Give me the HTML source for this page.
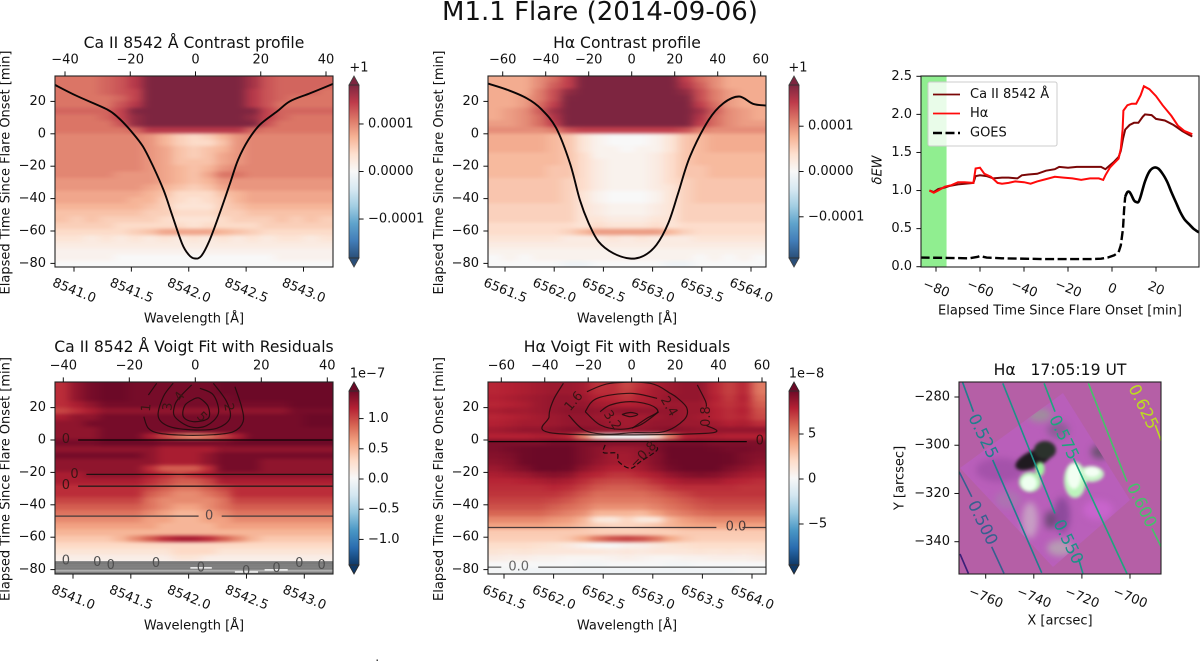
<!DOCTYPE html>
<html lang="en">
<head>
<meta charset="utf-8">
<title>M1.1 Flare (2014-09-06)</title>
<style>
html,body{margin:0;padding:0;background:#fff;}
svg{display:block;}
text{font-family:"DejaVu Sans","Liberation Sans",sans-serif;fill:#111;}
</style>
</head>
<body>
<svg id="fig" xmlns="http://www.w3.org/2000/svg" width="1200" height="661" viewBox="0 0 1200 661">
<defs>
<filter id="cellBlur" x="-5%" y="-5%" width="110%" height="110%" color-interpolation-filters="sRGB"><feGaussianBlur stdDeviation="5 1.5"/></filter>
<filter id="blobBlur" x="-30%" y="-30%" width="160%" height="160%" color-interpolation-filters="sRGB"><feGaussianBlur stdDeviation="1.5"/></filter>
<filter id="softBlur" x="-30%" y="-30%" width="160%" height="160%" color-interpolation-filters="sRGB"><feGaussianBlur stdDeviation="3.5"/></filter>
<clipPath id="clip-ca-contrast"><rect x="55" y="76" width="278" height="191"/></clipPath>
<clipPath id="clip-ha-contrast"><rect x="488" y="76" width="278" height="191"/></clipPath>
<clipPath id="clip-ca-voigt"><rect x="55" y="382" width="278" height="192"/></clipPath>
<clipPath id="clip-ha-voigt"><rect x="488" y="382" width="278" height="192"/></clipPath>
<clipPath id="clip-ew"><rect x="921" y="76" width="278" height="191"/></clipPath>
<clipPath id="clip-map"><rect x="959" y="382" width="202" height="192"/></clipPath>
<clipPath id="clip-rot"><polygon points="1063,393 960,468 1053,567 1130,500"/></clipPath>
</defs>
<rect x="0" y="0" width="1200" height="661" fill="#fff"/>

<text x="600" y="20" font-size="26" text-anchor="middle">M1.1 Flare (2014-09-06)</text>

<text x="194" y="48" font-size="15.6" text-anchor="middle">Ca II 8542 Å Contrast profile</text>
<text x="627" y="48" font-size="15.6" text-anchor="middle">Hα Contrast profile</text>
<text x="194" y="352" font-size="15.6" text-anchor="middle">Ca II 8542 Å Voigt Fit with Residuals</text>
<text x="627" y="352" font-size="15.6" text-anchor="middle">Hα Voigt Fit with Residuals</text>
<text x="1060" y="375" font-size="15.6" text-anchor="middle" xml:space="preserve">Hα   17:05:19 UT</text>

<text transform="translate(6,172.5) rotate(-90)" font-size="13" text-anchor="middle" dominant-baseline="central">Elapsed Time Since Flare Onset [min]</text>
<text transform="translate(439.5,172.5) rotate(-90)" font-size="13" text-anchor="middle" dominant-baseline="central">Elapsed Time Since Flare Onset [min]</text>
<text transform="translate(6,479) rotate(-90)" font-size="13" text-anchor="middle" dominant-baseline="central">Elapsed Time Since Flare Onset [min]</text>
<text transform="translate(439.5,479) rotate(-90)" font-size="13" text-anchor="middle" dominant-baseline="central">Elapsed Time Since Flare Onset [min]</text>
<text transform="translate(878,170) rotate(-90)" font-size="13" font-style="italic" text-anchor="middle" dominant-baseline="central">δEW</text>
<text transform="translate(900,478) rotate(-90)" font-size="13" text-anchor="middle" dominant-baseline="central">Y [arcsec]</text>

<text x="194" y="319" font-size="13" text-anchor="middle" dominant-baseline="central">Wavelength [Å]</text>
<text x="627" y="319" font-size="13" text-anchor="middle" dominant-baseline="central">Wavelength [Å]</text>
<text x="194" y="626" font-size="13" text-anchor="middle" dominant-baseline="central">Wavelength [Å]</text>
<text x="627" y="626" font-size="13" text-anchor="middle" dominant-baseline="central">Wavelength [Å]</text>
<text x="1060" y="311" font-size="13" text-anchor="middle" dominant-baseline="central">Elapsed Time Since Flare Onset [min]</text>
<text x="1060" y="621" font-size="13" text-anchor="middle" dominant-baseline="central">X [arcsec]</text>

<rect x="376.5" y="659.5" width="1.5" height="1.5" fill="#444"/>

<g id="layer-ca-contrast"></g>
<g id="layer-ha-contrast"></g>
<g id="layer-ca-voigt"></g>
<g id="layer-ha-voigt"></g>
<g id="layer-ew"></g>

<g id="layer-map">
  <g clip-path="url(#clip-map)">
    <rect x="959" y="382" width="202" height="192" fill="#b55fa6"/>
    <g clip-path="url(#clip-rot)">
      <rect x="950" y="385" width="190" height="190" fill="#b95fba"/>
      <g filter="url(#softBlur)">
        <ellipse cx="1040" cy="415" rx="12" ry="7" fill="#a08c9e"/>
        <ellipse cx="1000" cy="470" rx="24" ry="12" fill="#a452aa"/>
        <ellipse cx="1030" cy="520" rx="8" ry="18" fill="#c79dc4"/>
        <ellipse cx="1060" cy="548" rx="13" ry="8" fill="#b79bb4"/>
        <ellipse cx="1062" cy="515" rx="8" ry="18" fill="#8d4a9c"/>
        <ellipse cx="1050" cy="520" rx="5" ry="9" fill="#6e4a78"/>
        <ellipse cx="1098" cy="510" rx="15" ry="10" fill="#c864cc"/>
        <ellipse cx="1100" cy="452" rx="9" ry="7" fill="#6e5274"/>
        <ellipse cx="1058" cy="430" rx="11" ry="8" fill="#8f5c98"/>
        <ellipse cx="1008" cy="500" rx="13" ry="9" fill="#ad72b2"/>
      </g>
      <g filter="url(#blobBlur)">
        <ellipse cx="1034" cy="459" rx="20" ry="8.5" transform="rotate(-24 1034 459)" fill="#1f1a20"/>
        <ellipse cx="1045" cy="450" rx="11" ry="9" fill="#2b322c"/>
        <ellipse cx="1030" cy="482" rx="11" ry="10" fill="#b3f2b3"/>
        <ellipse cx="1075" cy="480" rx="11" ry="18" fill="#bdf5bd"/>
        <ellipse cx="1091" cy="474" rx="13" ry="8" fill="#c6f3c6"/>
        <ellipse cx="1029" cy="483" rx="8" ry="8" fill="#eefff0"/>
        <ellipse cx="1040" cy="469" rx="4.5" ry="7" fill="#9cf59c"/>
        <ellipse cx="1074" cy="476" rx="7" ry="13" fill="#f2fff2"/>
        <ellipse cx="1092" cy="472" rx="8" ry="5" fill="#f4fff4"/>
      </g>
    </g>
  </g>
</g>

<script>
/* ---------- shared tick values ---------- */
const timeTicks = [20, 0, -20, -40, -60, -80];
const caOffsetTicks = [-40, -20, 0, 20, 40];
const haOffsetTicks = [-60, -40, -20, 0, 20, 40, 60];
const caWaveTicks = [8541.0, 8541.5, 8542.0, 8542.5, 8543.0];
const haWaveTicks = [6561.5, 6562.0, 6562.5, 6563.0, 6563.5, 6564.0];
const contrastBarTicks = [10, 0, -10];
const contrastBarLabels = ['0.0001', '0.0000', '−0.0001'];
const caVoigtBarTicks = [10, 5, 0, -5, -10];
const caVoigtBarLabels = ['1.0', '0.5', '0.0', '−0.5', '−1.0'];
const haVoigtBarTicks = [50, 0, -50];
const haVoigtBarLabels = ['5', '0', '−5'];
const ewTimeTicks = [-80, -60, -40, -20, 0, 20];
const ewValueTicks = [0, 0.5, 1, 1.5, 2, 2.5];
const mapXTicks = [-760, -740, -720, -700];
const mapYTicks = [-280, -300, -320, -340];

/* ---------- heat maps: rows top-to-bottom (time), columns left-to-right (wavelength) ---------- */
const caContrast = [
[11,11,11,12,13,15,20,20,20,20,20,20,20,16,13,12,12,12,12],
[11,11,11,12,13,15,20,20,20,20,20,20,20,16,13,12,12,12,12],
[11,11,11,12,13,14,20,20,20,20,20,20,20,15,13,12,12,12,11],
[11,11,11,11,12,14,20,20,20,20,20,20,20,15,13,12,11,11,11],
[11,11,11,11,13,15,20,20,20,20,20,20,20,15,13,11,11,11,11],
[12,12,12,12,14,18,20,20,20,20,20,20,20,18,14,12,12,12,12],
[11,11,11,12,14,17,20,20,20,20,20,20,20,17,14,12,11,11,11],
[11,11,11,11,13,17,20,20,20,20,20,20,20,18,13,11,11,11,11],
[11,11,11,11,11,12,15,15,15,15,15,15,15,12,11,11,11,11,11],
[10,10,10,10,10,10,9,7,5,4,5,7,9,10,10,10,10,10,10],
[10,10,10,10,10,10,9,7,5,4,4,6,9,10,10,10,10,10,10],
[10,10,10,10,10,10,9,8,6,5,6,7,9,10,10,10,10,10,10],
[10,10,10,10,10,10,9,8,6,5,6,8,9,10,10,10,10,10,10],
[10,10,10,10,10,10,9,8,6,6,6,8,9,10,10,10,10,10,10],
[10,10,10,10,10,10,9,8,7,6,7,9,10,10,10,10,10,10,10],
[10,10,10,10,9,9,9,8,7,6,8,11,11,10,10,10,10,10,10],
[9,9,9,9,9,9,9,8,7,6,7,9,9,9,9,9,9,9,9],
[9,9,9,9,9,9,8,7,6,5,6,8,9,9,9,9,9,9,9],
[8,8,8,8,8,8,7,6,4,4,4,6,7,8,8,8,8,8,8],
[8,8,8,8,8,7,7,5,4,3,4,5,7,8,8,8,8,8,8],
[7,7,7,7,7,7,6,5,3,3,3,5,6,7,7,7,7,7,7],
[6,6,6,6,6,6,5,5,4,4,4,5,5,6,6,6,6,6,6],
[6,5,6,5,5,5,5,4,3,3,3,4,5,5,5,6,5,6,5],
[5,5,5,5,4,4,4,4,4,3,4,4,4,4,5,5,5,5,5],
[4,4,4,4,4,5,6,8,8,8,8,7,6,5,4,4,4,4,4],
[3,3,2,3,2,3,2,3,2,3,2,3,2,3,2,3,3,2,3],
[2,2,2,2,2,2,2,2,2,2,2,2,2,2,2,2,2,2,2],
[1,1,1,1,1,1,1,1,1,1,1,1,1,1,1,1,1,1,1],
[1,1,1,1,0,0,0,0,0,0,0,0,0,0,0,1,1,1,1],
[0,0,0,0,0,0,0,0,0,0,0,0,0,0,0,0,0,0,0]];

const haContrast = [
[8,8,8,10,12,15,20,20,20,20,20,20,20,15,12,10,8,8,8],
[8,8,8,10,13,15,20,20,20,20,20,20,20,16,13,10,8,8,8],
[8,8,8,11,14,18,20,20,20,20,20,20,20,18,14,11,9,8,8],
[8,8,9,11,14,19,20,20,20,20,20,20,20,19,14,11,9,8,8],
[8,8,9,12,15,20,20,20,20,20,20,20,20,20,15,12,9,8,8],
[8,9,10,13,17,20,20,20,20,20,20,20,20,20,17,13,10,9,8],
[8,9,10,12,16,20,20,20,20,20,20,20,20,20,16,12,10,9,8],
[9,9,10,12,15,20,20,20,20,20,20,20,20,20,15,12,10,9,9],
[10,10,10,10,11,14,15,15,15,15,15,15,15,14,11,10,10,10,10],
[8,8,8,8,7,6,3,1,0,0,0,1,3,6,7,8,8,8,8],
[8,8,8,8,7,6,3,1,0,0,0,1,3,6,7,8,8,8,8],
[8,8,8,8,7,6,3,1,1,0,1,1,3,6,7,8,8,8,8],
[7,7,7,7,7,6,4,1,1,1,1,2,4,6,7,7,7,7,7],
[7,7,7,7,7,6,4,2,1,1,1,2,4,6,7,7,7,7,7],
[7,7,7,7,6,6,4,2,1,1,1,2,4,6,6,7,7,7,7],
[7,7,7,7,6,6,4,2,1,1,1,2,4,6,6,7,7,7,7],
[6,6,6,6,6,5,4,2,1,1,1,2,4,5,6,6,6,6,6],
[6,6,6,6,6,5,4,2,1,1,1,2,3,5,6,6,6,6,6],
[6,6,6,6,6,5,3,1,0,0,0,1,3,5,6,6,6,6,6],
[6,6,6,6,6,5,3,1,0,0,0,1,3,5,6,6,6,6,6],
[5,5,5,5,5,5,3,2,1,1,1,2,3,5,5,5,5,5,5],
[5,5,5,5,5,5,3,2,1,1,1,2,3,5,5,5,5,5,5],
[5,5,5,5,5,5,3,3,2,2,2,3,3,5,5,5,5,5,5],
[4,4,4,4,4,4,3,4,3,3,3,4,3,4,4,4,4,4,4],
[4,4,4,4,4,5,7,9,9,9,9,9,7,5,4,4,4,4,4],
[3,3,3,3,3,2,2,2,3,2,3,2,2,2,3,3,3,3,3],
[2,2,2,2,2,2,2,2,2,2,2,2,2,2,2,2,2,2,2],
[1,1,1,1,1,1,1,1,1,1,1,1,1,1,1,1,1,1,1],
[0,1,0,1,1,1,1,1,1,1,1,1,1,1,0,1,0,1,0],
[0,0,0,0,0,-1,-1,0,0,0,0,0,-1,-1,0,0,0,0,0]];

const caVoigt = [
[11,13,14,15,15,14,14,14,14,14,14,15,15,15,15,15,15,15,15],
[11,13,14,15,15,14,14,14,14,14,14,15,15,15,15,15,15,15,15],
[11,13,14,15,15,14,14,14,14,14,14,14,15,15,15,15,15,15,15],
[11,12,13,14,14,14,14,14,14,14,14,14,14,14,14,14,15,15,15],
[10,11,12,13,13,13,13,13,13,13,13,13,13,13,13,13,14,14,14],
[12,13,13,14,14,14,14,14,14,14,14,14,14,14,14,14,14,15,15],
[13,13,14,14,14,14,14,14,14,14,14,14,14,14,14,14,14,15,15],
[13,13,13,14,14,14,14,14,14,14,14,14,14,14,14,14,14,14,14],
[13,13,13,14,14,14,12,10,8,7,8,10,12,14,14,14,14,14,14],
[14,14,14,15,15,15,15,14,14,14,14,14,15,15,15,15,15,15,15],
[13,13,13,13,13,13,13,12,12,12,12,13,13,13,13,13,13,13,13],
[14,14,14,14,14,14,13,12,12,12,13,14,14,14,14,14,14,14,14],
[13,13,13,13,13,13,13,12,12,12,13,14,14,14,13,13,13,13,13],
[13,13,13,13,13,13,11,9,9,9,11,14,14,14,13,13,13,13,13],
[12,12,13,13,13,13,12,11,10,11,12,13,13,13,13,13,13,13,13],
[12,12,12,12,12,12,11,10,9,9,10,12,12,12,12,12,12,12,12],
[11,11,11,11,11,11,10,9,8,8,9,10,11,11,11,11,11,11,11],
[11,11,11,11,11,11,9,8,7,7,8,9,11,11,11,11,11,11,11],
[10,10,10,10,10,10,8,7,7,7,7,8,10,10,10,10,10,10,10],
[9,9,9,9,9,9,8,7,6,6,7,8,9,9,9,9,9,9,9],
[8,8,8,8,8,8,7,6,5,5,6,7,8,8,8,8,8,8,8],
[7,7,7,7,7,7,6,6,5,5,6,6,7,7,7,7,7,7,7],
[6,6,6,6,6,6,6,5,5,5,5,6,6,6,6,6,6,6,6],
[5,5,5,5,5,5,5,5,5,5,5,5,5,5,5,5,5,5,5],
[4,4,4,4,5,7,9,11,12,12,11,9,7,5,4,4,4,4,4],
[3,3,3,3,3,3,3,3,3,3,3,3,3,3,3,3,3,3,3],
[2,2,2,2,2,2,2,2,3,3,3,2,2,2,2,2,2,2,2],
[1,1,1,1,1,1,1,1,2,2,1,1,1,1,1,1,1,1,1],
[0,0,0,0,0,0,0,0,0,0,0,0,0,0,0,0,0,0,0],
[0,0,0,0,0,0,0,0,0,0,0,0,0,0,0,0,0,0,0]];

const haVoigt = [
[76,78,80,82,84,84,82,72,74,66,74,80,84,86,86,76,68,76,52],
[76,78,80,82,84,84,82,74,74,68,76,82,84,86,86,76,68,76,52],
[78,80,82,84,86,86,84,78,76,72,78,82,86,86,86,78,70,78,56],
[76,78,80,84,86,86,86,82,80,78,80,82,84,84,84,76,72,76,60],
[80,82,82,84,86,88,88,86,86,88,86,86,86,84,84,78,74,78,64],
[76,78,80,82,84,86,86,84,82,82,82,84,86,84,82,78,74,76,66],
[78,80,82,82,84,86,86,86,84,82,84,86,86,84,84,82,78,80,74],
[82,84,86,86,88,90,90,88,86,84,86,88,90,88,86,86,86,86,86],
[78,78,78,80,80,76,50,14,0,0,0,16,52,78,80,80,78,78,78],
[92,92,92,92,94,94,92,92,90,90,90,92,94,94,94,92,92,92,92],
[92,94,96,98,98,98,92,88,84,84,86,92,98,98,98,96,94,94,92],
[90,92,96,98,100,100,92,88,82,82,86,90,98,100,100,98,96,92,90],
[88,90,96,100,100,100,92,86,82,82,84,90,96,100,100,100,96,92,88],
[84,88,92,98,100,96,88,82,78,78,82,88,94,98,100,98,92,88,84],
[80,82,84,88,90,88,80,76,72,72,76,80,86,90,92,90,86,82,80],
[76,76,78,80,82,80,74,68,66,66,68,74,78,82,82,82,78,76,74],
[74,74,74,74,76,74,68,62,60,60,62,66,72,74,74,74,74,72,72],
[72,72,72,72,72,68,62,56,56,56,56,60,64,68,72,72,72,72,72],
[68,68,68,68,66,62,56,52,52,52,52,54,58,62,66,68,68,68,68],
[64,64,64,64,60,56,52,46,46,46,46,50,54,58,62,64,64,64,64],
[58,58,58,58,54,50,46,34,34,34,32,40,48,52,56,58,58,58,58],
[48,48,48,48,44,42,34,12,10,22,10,12,34,42,46,48,48,48,48],
[40,40,40,40,38,36,30,24,22,22,24,28,34,38,40,40,40,40,40],
[26,26,26,26,26,26,26,24,24,24,24,24,24,26,26,26,26,26,26],
[24,24,24,24,24,28,38,54,64,68,64,54,38,28,24,24,24,24,24],
[18,18,18,16,14,10,4,0,0,4,6,10,14,16,18,18,18,18,18],
[14,12,14,12,12,12,12,12,10,12,10,12,12,12,14,12,14,12,14],
[8,6,6,4,4,2,2,2,4,6,4,2,2,4,4,6,6,6,8],
[0,0,0,0,0,0,-2,-2,0,0,0,0,-2,-2,0,0,0,0,0],
[-2,-2,-4,-4,-4,-4,-4,-4,-4,-4,-4,-4,-4,-4,-4,-4,-4,-2,-2]];

/* ---------- line profiles (wavelength Å, y-axis minutes) ---------- */
const caProfileWave = [8540.834,8541.02,8541.285,8541.39,8541.5,8541.6,8541.69,8541.78,8541.85,8541.94,8542,8542.055,8542.11,8542.18,8542.27,8542.36,8542.43,8542.52,8542.62,8542.77,8542.88,8543.06,8543.26];
const caProfileLevel = [30.2,23.5,15.2,9.7,1.4,-7.8,-20.2,-34.6,-49,-67.5,-74.7,-77,-75.3,-66,-49,-30.5,-16,-3.7,5.6,13.8,20,25.1,30.9];
const haProfileWave = [6561.33,6561.52,6561.72,6561.87,6562.02,6562.16,6562.26,6562.35,6562.45,6562.6,6562.77,6562.91,6563.04,6563.16,6563.26,6563.38,6563.57,6563.72,6563.88,6564.02,6564.15];
const haProfileLevel = [30.9,27.2,22,15.2,3.5,-18.1,-40.7,-55.1,-66.5,-73.7,-77,-75.3,-68.5,-55.1,-36.6,-14,8.6,18.9,23,18.5,17.5];

/* ---------- residual contours (offset axis, minutes) ---------- */
const caContourOffsets = [
[-11.7,-14.2],
[-15.6,-14.2,-10.7,-2.6,5.5,11.5,14.5,14,12],
[-6.7,-9.7,-11.2,-7.7,-0.1,6.5,10.5,9.5,5.5],
[-1.1,-4.6,-6.2,-6.2,-1.6,3.4,7,5.5,1.4],
[-0.1,-3.1,-3.6,-0.6,3.9,3.9,1.4,-0.1]];
const caContourTimes = [
[35,27.8],
[14.4,7.2,4.1,2.9,3.3,5.1,11.3,20.6,32.9],
[35,26.7,14.4,8.2,6.2,7.2,13.4,23.7,35],
[34,26.7,21.6,14.4,8.2,8.8,16.5,27.8,31.9],
[25.7,21.6,14.4,11.3,13.4,20.6,25.7,25.7]];
const caContourLabelText = ['1','2','3','4','5'];
const caContourLabelOffset = [-14.7,10,-8.2,-4.6,1.9];
const caContourLabelTime = [20,20.2,20.6,26.7,14];
const caContourLabelAngle = [-85,80,-85,-55,45];

const caZeroTimes = [0,-21.2,-28.5,-47,-47];
const caZeroFrom = [-35.5,-33,-35.5,-43,8];
const caZeroTo = [42,42,42,1,42];
const caZeroShade = ['#0c0404','#201010','#2a1a1a','#453a3a','#453a3a'];
const caZeroLabelOffset = [-39.2,-36.6,-39.2,4.2];
const caZeroLabelTime = [0.2,-21.2,-28,-46.8];

const caBandTimes = [-75.3,-76.1,-76.9,-77.7,-78.5,-79.3,-80.1,-80.9,-81.7,-82.5];
const caBandShade = ['#7e7e7e','#777','#808080','#7a7a7a','#858585','#7c7c7c','#8a8a8a','#bbb','#808080','#777'];
const caGapOffsets = [[-1.5,5],[12,19],[21,28]];
const caGapTimes = [-78.9,-81.5,-80.2];
const caBandLabelOffset = [-39.2,-29.7,-25.6,-11.9,1.7,15.4,24.6,31.5,38.3];
const caBandLabelTime = [-74.7,-75.7,-77.6,-76.1,-79,-81.3,-79.4,-76.1,-77.6];

const haContourOffsets = [
[-31.4,-36,-38,-35.2,34,34.4],
[34.4,34,30.2],
[-29,-22,-12,0.9,14.8,24,25.5,21,17.8],
[-20.6,-9.8,8.6,17.8],
[-21.4,-16,-0.6,11.7],
[12.5,4,-5.2,-14.5,-21.4],
[-14.5,-9.8,-0.6,8.6,12,7,0.2],
[-4.5,-0.6,2.8,-0.6,-4.5]];
const haContourTimes = [
[35,24.7,14.4,4.1,4.1,9],
[20.5,24,34],
[15.4,6.2,3.6,4.5,5.1,12.3,19.5,26,28.8],
[29.8,35,35,28.8],
[17.5,25.7,28.8,25.7],
[17.5,9.3,6.6,9.3,17.5],
[17.5,21.6,23.7,21.6,17.5,13.4,7.2],
[15.8,17,15.8,14.4,15.8]];
const haDashOffsets = [-12.2,-12.9,-6.8,-6,-0.6,4,11.7,10];
const haDashTimes = [-3,-7.8,-8.2,-13.4,-17.5,-13.4,-6.2,-3];
const haContourLabelText = ['1.6','2.4','3.2','0.8','−0.8'];
const haContourLabelOffset = [-26.5,17,-9,34.5,5.5];
const haContourLabelTime = [23.7,20.6,12,14.5,-9.3];
const haContourLabelAngle = [-50,60,55,-90,-45];
const haZeroTimes = [-1,-54,-54,-78.5,-78.5];
const haZeroFrom = [-66,-66,51,-66,-43];
const haZeroTo = [53,39,62,-60,62];
const haZeroShade = ['#0c0404','#4a3a3a','#4a3a3a','#666','#666'];
const haZeroLabelText = ['0','0.0','0.0'];
const haZeroLabelOffset = [59,48,-52];
const haZeroLabelTime = [-0.6,-53.7,-78.5];
const haZeroLabelShade = ['#3a1010','#4a3a3a','#666'];

/* ---------- equivalent width series ---------- */
const caEwTime = [-83,-81,-79,-76,-74,-70,-67,-63,-62,-60,-57,-54,-50,-47,-43,-41,-38,-34,-30,-26,-24,-20,-16,-12,-8,-5,-3,-1,1,3,4,5,6,8,10,12,14,15,18,20,24,28,32,35,36.5];
const caEwValue = [1.0,0.98,1.02,1.04,1.06,1.08,1.09,1.10,1.19,1.20,1.19,1.16,1.17,1.17,1.16,1.20,1.21,1.22,1.26,1.28,1.31,1.30,1.31,1.31,1.31,1.31,1.28,1.33,1.38,1.44,1.52,1.68,1.80,1.86,1.89,1.89,1.97,2.0,1.99,1.94,1.92,1.86,1.78,1.73,1.71];
const haEwTime = [-83,-81,-79,-76,-73,-70,-67,-63,-62,-60,-58,-55,-52,-50,-47,-44,-40,-37,-34,-30,-26,-22,-18,-14,-10,-6,-4,-3,-1,1,3,4,4.8,5.2,7,9,11,13,14.5,17,20,23,27,30,33,36.5];
const haEwValue = [1.0,0.97,1.0,1.05,1.07,1.11,1.11,1.10,1.29,1.30,1.22,1.18,1.10,1.09,1.10,1.12,1.11,1.09,1.12,1.15,1.18,1.17,1.16,1.14,1.16,1.16,1.14,1.2,1.3,1.36,1.42,1.55,1.8,2.05,2.12,2.14,2.14,2.25,2.37,2.33,2.24,2.12,1.98,1.85,1.78,1.74];
const goesRiseTime = [-87,-75,-65,-61,-60,-57,-50,-30,-10,-5,-2,1,3,4,5,5.5,6];
const goesRiseValue = [0.12,0.115,0.11,0.13,0.14,0.12,0.11,0.10,0.10,0.105,0.12,0.15,0.19,0.28,0.5,0.75,0.92];
const goesPeakTime = [6,7,8,9,10,11,12,13,15,17,19,21,23,25,27,29,31,33,35,37,39.5];
const goesPeakValue = [0.92,0.98,0.98,0.93,0.87,0.85,0.85,0.92,1.12,1.25,1.30,1.29,1.22,1.12,0.98,0.85,0.72,0.62,0.56,0.5,0.45];
const selectionSpan = [-87,-75.2];

/* ---------- map contours (arcsec) ---------- */
const mapContourLevels = ['0.475','0.500','0.500','0.525','0.525','0.550','0.550','0.575','0.575','0.600','0.600','0.625'];
const mapContourX = [
[-770.7,-767.2],[-771,-765.8],[-757.5,-752.4],[-769.6,-765.1],[-757.1,-736.7],
[-752.9,-731.2],[-721.4,-719.6],[-735.7,-731.2],[-723.5,-701.3],[-717.3,-701.3],[-690.9,-686.9],[-689.5,-686.9]];
const mapContourY = [
[-345.1,-353.2],[-311,-321.4],[-342.1,-353.2],[-273.9,-286.1],[-306.1,-352.9],
[-274.3,-328.3],[-347,-353.2],[-274.3,-286.1],[-305.4,-353.2],[-274.3,-315.1],[-334.5,-342.4],[-291.6,-298.5]];
const mapContourShade = ['#3b1f78','#35608f','#35608f','#1f7f8c','#1f7f8c','#1c9288','#1c9288','#1da57e','#1da57e','#45c26a','#45c26a','#bcdc20'];
const mapLabelText = ['0.500','0.525','0.550','0.575','0.600','0.625'];
const mapLabelX = [-761.2,-761,-725.6,-727.4,-695.1,-694.4];
const mapLabelY = [-332.1,-296.2,-340,-296.7,-324.8,-284];
const mapLabelShade = ['#35608f','#1f7f8c','#1c9288','#1da57e','#45c26a','#bcdc20'];

/* ---------- colormap ---------- */
const rdbuStops = [[5,48,97],[33,102,172],[67,147,195],[146,197,222],[209,229,240],[247,247,247],[253,219,199],[244,165,130],[214,96,77],[178,24,43],[103,0,31]];
function cmap(f){
  const c = Math.max(0, Math.min(1, f)) * 10;
  const i = Math.min(9, Math.floor(c));
  const a = rdbuStops[i], b = rdbuStops[i + 1], k = c - i;
  return 'rgb(' + [0,1,2].map(j => Math.round(a[j] + (b[j] - a[j]) * k)).join(',') + ')';
}

/* ---------- helpers ---------- */
const NS = 'http://www.w3.org/2000/svg';
function mk(tag, parent, attrs){
  const n = document.createElementNS(NS, tag);
  for (const k in attrs) n.setAttribute(k, attrs[k]);
  parent.appendChild(n);
  return n;
}
function linear(d0, d1, r0, r1){ return v => r0 + (v - d0) / (d1 - d0) * (r1 - r0); }
function minus(s){ return String(s).replace('-', '−'); }
function smoothPath(xs, ys){
  let d = 'M' + xs[0].toFixed(1) + ' ' + ys[0].toFixed(1);
  for (let i = 0; i < xs.length - 1; i++){
    const p0 = Math.max(0, i - 1), p3 = Math.min(xs.length - 1, i + 2);
    const c1x = xs[i] + (xs[i + 1] - xs[p0]) / 6, c1y = ys[i] + (ys[i + 1] - ys[p0]) / 6;
    const c2x = xs[i + 1] - (xs[p3] - xs[i]) / 6, c2y = ys[i + 1] - (ys[p3] - ys[i]) / 6;
    d += 'C' + [c1x,c1y,c2x,c2y,xs[i + 1],ys[i + 1]].map(v => v.toFixed(1)).join(' ');
  }
  return d;
}
function straightPath(xs, ys){
  return xs.map((x, i) => (i ? 'L' : 'M') + x.toFixed(1) + ' ' + ys[i].toFixed(1)).join('');
}
function drawBottomTicks(g, ticks, sx, bottom, labels, labelY){
  ticks.forEach((v, i) => {
    const x = sx(v);
    const t = mk('line', g, {x1:x, x2:x, y1:bottom, y2:bottom + 4.6, stroke:'#111', 'stroke-width':1});
    
    
    const l = mk('text', g, {x:x, y:labelY, 'font-size':13, 'text-anchor':'middle', 'dominant-baseline':'central', transform:'rotate(22 ' + x + ' ' + labelY + ')'});
    l.textContent = labels[i];
    
    
  });
}
function drawTopTicks(g, ticks, sx, top, labelY){
  ticks.forEach(v => {
    const x = sx(v);
    const t = mk('line', g, {x1:x, x2:x, y1:top, y2:top - 4.6, stroke:'#111', 'stroke-width':1});
    
    
    const l = mk('text', g, {x:x, y:labelY, 'font-size':13, 'text-anchor':'middle', 'dominant-baseline':'central'});
    l.textContent = minus(v);
    
    
  });
}
function drawLeftTicks(g, ticks, sy, left, labels){
  ticks.forEach((v, i) => {
    const y = sy(v);
    const t = mk('line', g, {x1:left, x2:left - 4.6, y1:y, y2:y, stroke:'#111', 'stroke-width':1});
    
    
    const l = mk('text', g, {x:left - 9, y:y, 'font-size':13, 'text-anchor':'end', 'dominant-baseline':'central'});
    l.textContent = labels[i];
    
    
  });
}
function drawFrame(g, l, t, w, h){
  const r = mk('rect', g, {x:l, y:t, width:w, height:h, fill:'none', stroke:'#222', 'stroke-width':1.1});
  
  
}
function drawHeat(g, clipId, rows, vmax, box, opacity){
  const outer = mk('g', g, {'clip-path':'url(#' + clipId + ')', opacity:opacity});
  
  
  const inner = mk('g', outer, {filter:'url(#cellBlur)'});
  const nr = rows.length, nc = rows[0].length;
  const cw = box.w / nc, ch = box.h / nr;
  rows.forEach((row, r) => {
    row.forEach((v, c) => {
      const x0 = c === 0 ? box.x - 24 : box.x + c * cw;
      const x1 = c === nc - 1 ? box.x + box.w + 24 : box.x + (c + 1) * cw + 0.4;
      const y0 = r === 0 ? box.y - 10 : box.y + r * ch;
      const y1 = r === nr - 1 ? box.y + box.h + 10 : box.y + (r + 1) * ch + 0.4;
      const cell = mk('rect', inner, {x:x0, y:y0, width:x1 - x0, height:y1 - y0, fill:cmap((v / vmax + 1) / 2)});
      
      
    });
  });
}
let gradCount = 0;
function drawColorbar(g, x, w, top, bottom, vmax, ticks, labels, opacity, zeroOffset){
  const cbar = mk('g', g, {});
  
  
  const id = 'cbgrad' + (gradCount++);
  const grad = mk('linearGradient', document.querySelector('defs'), {id:id, x1:0, y1:1, x2:0, y2:0});
  rdbuStops.forEach((s, i) => {
    mk('stop', grad, {offset:(i * 10) + '%', 'stop-color':'rgb(' + s.join(',') + ')'});
  });
  const inset = 9;
  const strip = mk('rect', cbar, {x:x, y:top + inset, width:w, height:bottom - top - 2 * inset, fill:'url(#' + id + ')', opacity:opacity});
  
  
  const up = mk('polygon', cbar, {points:x + ',' + (top + inset) + ' ' + (x + w / 2) + ',' + top + ' ' + (x + w) + ',' + (top + inset), fill:'#67001f', opacity:opacity, stroke:'#222', 'stroke-width':0.8});
  
  
  const down = mk('polygon', cbar, {points:x + ',' + (bottom - inset) + ' ' + (x + w / 2) + ',' + bottom + ' ' + (x + w) + ',' + (bottom - inset), fill:'#053061', opacity:opacity, stroke:'#222', 'stroke-width':0.8});
  
  
  const outline = mk('rect', cbar, {x:x, y:top + inset, width:w, height:bottom - top - 2 * inset, fill:'none', stroke:'#333', 'stroke-width':0.8});
  
  
  const cy = (top + bottom) / 2 + zeroOffset;
  const half = (bottom - top - 2 * inset) / 2;
  ticks.forEach((v, i) => {
    const y = cy - v / vmax * half;
    const t = mk('line', cbar, {x1:x + w, x2:x + w + 4.6, y1:y, y2:y, stroke:'#111', 'stroke-width':1});
    
    
    const l = mk('text', cbar, {x:x + w + 9, y:y, 'font-size':13, 'dominant-baseline':'central'});
    l.textContent = labels[i];
    
    
  });
}
function contourLabel(g, txt, x, y, angle, fill){
  const l = mk('text', g, {x:x, y:y, 'font-size':13, 'text-anchor':'middle', 'dominant-baseline':'central', fill:fill, style:'fill:' + fill, transform:'rotate(' + angle + ' ' + x + ' ' + y + ')'});
  l.textContent = txt;
  
  
  return l;
}

/* ---------- panel: Ca II contrast ---------- */
(function(){
  const g = document.getElementById('layer-ca-contrast');
  const sw = linear(8541, 8543, 74, 303.5), so = linear(-40, 40, 65, 326), st = linear(0, 20, 133.8, 101.4);
  drawHeat(g, 'clip-ca-contrast', caContrast, 18.2, {x:55, y:76, w:278, h:191}, 0.85);
  const c = mk('g', g, {'clip-path':'url(#clip-ca-contrast)'});
  const p = mk('path', c, {d:smoothPath(caProfileWave.map(sw), caProfileLevel.map(st)), fill:'none', stroke:'#0a0505', 'stroke-width':1.9});
  
  
  drawFrame(g, 55, 76, 278, 191);
  drawLeftTicks(g, timeTicks, st, 55, timeTicks.map(minus));
  drawTopTicks(g, caOffsetTicks, so, 76, 60);
  drawBottomTicks(g, caWaveTicks, sw, 267, caWaveTicks.map(v => v.toFixed(1)), 291);
  drawColorbar(g, 349, 10, 76, 267, 18.2, contrastBarTicks, contrastBarLabels, 0.85, 0);
  const off = mk('text', g, {x:359, y:68, 'font-size':13, 'text-anchor':'middle', 'dominant-baseline':'central'});
  off.textContent = '+1';
  
  
})();

/* ---------- panel: H-alpha contrast ---------- */
(function(){
  const g = document.getElementById('layer-ha-contrast');
  const sw = linear(6561.5, 6564, 505, 751), so = linear(-60, 60, 502.7, 760.7), st = linear(0, 20, 133.8, 101.4);
  drawHeat(g, 'clip-ha-contrast', haContrast, 19.1, {x:488, y:76, w:278, h:191}, 0.85);
  const c = mk('g', g, {'clip-path':'url(#clip-ha-contrast)'});
  const p = mk('path', c, {d:smoothPath(haProfileWave.map(sw), haProfileLevel.map(st)), fill:'none', stroke:'#0a0505', 'stroke-width':1.9});
  
  
  drawFrame(g, 488, 76, 278, 191);
  drawLeftTicks(g, timeTicks, st, 488, timeTicks.map(minus));
  drawTopTicks(g, haOffsetTicks, so, 76, 60);
  drawBottomTicks(g, haWaveTicks, sw, 267, haWaveTicks.map(v => v.toFixed(1)), 291);
  drawColorbar(g, 789, 10, 76, 267, 19.1, contrastBarTicks, contrastBarLabels, 0.85, 0);
  const off = mk('text', g, {x:798, y:68, 'font-size':13, 'text-anchor':'middle', 'dominant-baseline':'central'});
  off.textContent = '+1';
  
  
})();

/* ---------- panel: Ca II Voigt residuals ---------- */
(function(){
  const g = document.getElementById('layer-ca-voigt');
  const sw = linear(8541, 8543, 73, 304.3), so = linear(-40, 40, 63.3, 327.3), st = linear(0, 20, 440, 407.6);
  drawHeat(g, 'clip-ca-voigt', caVoigt, 14.4, {x:55, y:382, w:278, h:192}, 0.96);
  const c = mk('g', g, {'clip-path':'url(#clip-ca-voigt)'});
  caBandTimes.forEach((t, i) => {
    const l = mk('line', c, {x1:so(-43), x2:so(42), y1:st(t), y2:st(t), stroke:caBandShade[i], 'stroke-width':1.6});
    
    
  });
  caGapOffsets.forEach((o, i) => {
    const l = mk('line', c, {x1:so(o[0]), x2:so(o[1]), y1:st(caGapTimes[i]), y2:st(caGapTimes[i]), stroke:'#f4f4f4', 'stroke-width':1.5});
    
    
  });
  caBandLabelOffset.forEach((o, i) => {
    const l = contourLabel(c, '0', so(o), st(caBandLabelTime[i]), 0, '#4f4f4f');
    
  });
  caZeroTimes.forEach((t, i) => {
    const l = mk('line', c, {x1:so(caZeroFrom[i]), x2:so(caZeroTo[i]), y1:st(t), y2:st(t), stroke:caZeroShade[i], 'stroke-width':1.3});
    
    
  });
  caZeroLabelOffset.forEach((o, i) => {
    const l = contourLabel(c, '0', so(o), st(caZeroLabelTime[i]), 0, i === 3 ? '#5a4a4a' : '#3a1414');
    
  });
  caContourOffsets.forEach((xs, i) => {
    const p = mk('path', c, {d:smoothPath(xs.map(so), caContourTimes[i].map(st)), fill:'none', stroke:'#1c0c0c', 'stroke-width':1.2, opacity:0.85});
    
    
  });
  caContourLabelText.forEach((txt, i) => {
    contourLabel(c, txt, so(caContourLabelOffset[i]), st(caContourLabelTime[i]), caContourLabelAngle[i], '#3a1414');
  });
  drawFrame(g, 55, 382, 278, 192);
  drawLeftTicks(g, timeTicks, st, 55, timeTicks.map(minus));
  drawTopTicks(g, caOffsetTicks, so, 382, 366);
  drawBottomTicks(g, caWaveTicks, sw, 574, caWaveTicks.map(v => v.toFixed(1)), 598);
  drawColorbar(g, 349, 10, 382, 574, 14.4, caVoigtBarTicks, caVoigtBarLabels, 0.96, 1);
  const off = mk('text', g, {x:367.5, y:374, 'font-size':13, 'text-anchor':'middle', 'dominant-baseline':'central'});
  off.textContent = '1e−7';
  
  
})();

/* ---------- panel: H-alpha Voigt residuals ---------- */
(function(){
  const g = document.getElementById('layer-ha-voigt');
  const sw = linear(6561.5, 6564, 504, 752), so = linear(-60, 60, 501.3, 762), st = linear(0, 20, 440, 407.6);
  drawHeat(g, 'clip-ha-voigt', haVoigt, 96.7, {x:488, y:382, w:278, h:192}, 0.96);
  const c = mk('g', g, {'clip-path':'url(#clip-ha-voigt)'});
  haZeroTimes.forEach((t, i) => {
    const l = mk('line', c, {x1:so(haZeroFrom[i]), x2:so(haZeroTo[i]), y1:st(t), y2:st(t), stroke:haZeroShade[i], 'stroke-width':1.3});
    
    
  });
  haZeroLabelText.forEach((txt, i) => {
    const l = contourLabel(c, txt, so(haZeroLabelOffset[i]), st(haZeroLabelTime[i]), 0, haZeroLabelShade[i]);
    
  });
  haContourOffsets.forEach((xs, i) => {
    const p = mk('path', c, {d:smoothPath(xs.map(so), haContourTimes[i].map(st)), fill:'none', stroke:'#1c0c0c', 'stroke-width':1.2, opacity:0.85});
    
    
  });
  const dash = mk('path', c, {d:smoothPath(haDashOffsets.map(so), haDashTimes.map(st)), fill:'none', stroke:'#1c0c0c', 'stroke-width':1.2, 'stroke-dasharray':'5 2.5'});
  
  
  haContourLabelText.forEach((txt, i) => {
    contourLabel(c, txt, so(haContourLabelOffset[i]), st(haContourLabelTime[i]), haContourLabelAngle[i], '#3a1414');
  });
  drawFrame(g, 488, 382, 278, 192);
  drawLeftTicks(g, timeTicks, st, 488, timeTicks.map(minus));
  drawTopTicks(g, haOffsetTicks, so, 382, 366);
  drawBottomTicks(g, haWaveTicks, sw, 574, haWaveTicks.map(v => v.toFixed(1)), 598);
  drawColorbar(g, 789, 10, 382, 574, 96.7, haVoigtBarTicks, haVoigtBarLabels, 0.96, 1);
  const off = mk('text', g, {x:806.5, y:374, 'font-size':13, 'text-anchor':'middle', 'dominant-baseline':'central'});
  off.textContent = '1e−8';
  
  
})();

/* ---------- panel: equivalent width ---------- */
(function(){
  const g = document.getElementById('layer-ew');
  const sx = linear(0, 20, 1112, 1156), sy = linear(0, 2.5, 266.7, 76.3);
  const c = mk('g', g, {'clip-path':'url(#clip-ew)'});
  const span = mk('rect', c, {x:sx(selectionSpan[0]), y:76, width:sx(selectionSpan[1]) - sx(selectionSpan[0]), height:191, fill:'#90ee90'});
  
  
  const ca = mk('path', c, {d:straightPath(caEwTime.map(sx), caEwValue.map(sy)), fill:'none', stroke:'#7a0606', 'stroke-width':2});
  
  
  const ha = mk('path', c, {d:straightPath(haEwTime.map(sx), haEwValue.map(sy)), fill:'none', stroke:'#ff0a0a', 'stroke-width':2});
  
  
  const goesA = mk('path', c, {d:straightPath(goesRiseTime.map(sx), goesRiseValue.map(sy)), fill:'none', stroke:'#000', 'stroke-width':2.4, 'stroke-dasharray':'9 3.5'});
  
  
  const goesB = mk('path', c, {d:smoothPath(goesPeakTime.map(sx), goesPeakValue.map(sy)), fill:'none', stroke:'#000', 'stroke-width':2.6});
  
  
  drawFrame(g, 921, 76, 278, 191);
  drawLeftTicks(g, ewValueTicks, sy, 921, ewValueTicks.map(v => v.toFixed(1)));
  drawBottomTicks(g, ewTimeTicks, sx, 267, ewTimeTicks.map(minus), 289);

  const legend = mk('g', g, {});
  
  
  const box = mk('rect', legend, {x:928, y:82, width:129, height:64, rx:2, fill:'#fff', 'fill-opacity':0.8, stroke:'#ccc', 'stroke-width':1});
  
  
  const e1 = mk('line', legend, {x1:933, x2:960, y1:94.5, y2:94.5, stroke:'#7a0606', 'stroke-width':1.7});
  
  
  const t1 = mk('text', legend, {x:970, y:94.5, 'font-size':13, 'dominant-baseline':'central'});
  t1.textContent = 'Ca II 8542 Å';
  
  
  const e2 = mk('line', legend, {x1:933, x2:960, y1:113.5, y2:113.5, stroke:'#ff0a0a', 'stroke-width':1.7});
  
  
  const t2 = mk('text', legend, {x:970, y:113.5, 'font-size':13, 'dominant-baseline':'central'});
  t2.textContent = 'Hα';
  
  
  const e3 = mk('line', legend, {x1:933, x2:960, y1:133, y2:133, stroke:'#000', 'stroke-width':2.4, 'stroke-dasharray':'9 3.5'});
  
  
  const t3 = mk('text', legend, {x:970, y:133, 'font-size':13, 'dominant-baseline':'central'});
  t3.textContent = 'GOES';
  
  
})();

/* ---------- panel: H-alpha map ---------- */
(function(){
  const g = document.getElementById('layer-map');
  const sx = linear(-760, -700, 985.7, 1130), sy = linear(-280, -340, 397, 541.7);
  const c = mk('g', g, {'clip-path':'url(#clip-map)'});
  mapContourX.forEach((xs, i) => {
    const p = mk('path', c, {d:straightPath(xs.map(sx), mapContourY[i].map(sy)), fill:'none', stroke:mapContourShade[i], 'stroke-width':1.6});
    
    
  });
  mapLabelText.forEach((txt, i) => {
    const l = contourLabel(c, txt, sx(mapLabelX[i]), sy(mapLabelY[i]), 64, mapLabelShade[i]);
    l.setAttribute('font-size', 16.5);
  });
  drawFrame(g, 959, 382, 202, 192);
  drawLeftTicks(g, mapYTicks, sy, 959, mapYTicks.map(minus));
  drawBottomTicks(g, mapXTicks, sx, 574, mapXTicks.map(minus), 598);
})();
</script>
</svg>
</body>
</html>
